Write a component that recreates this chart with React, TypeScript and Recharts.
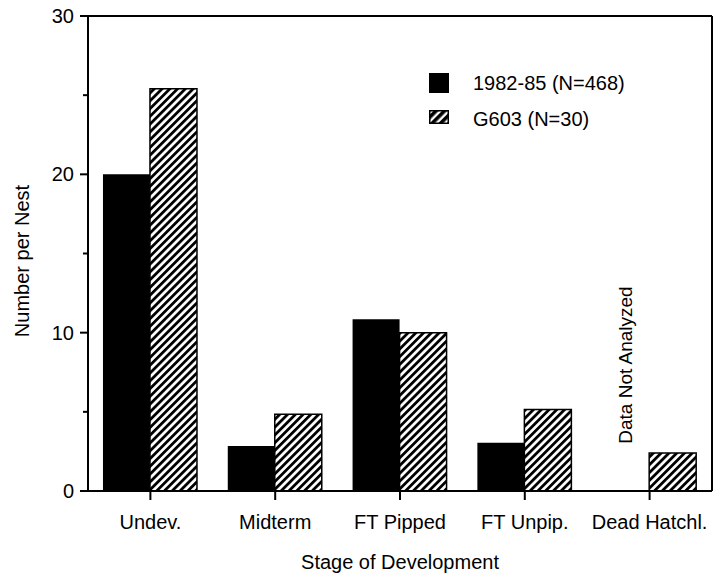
import React from 'react';
import { BarChart, Bar, XAxis, YAxis, Legend, ReferenceLine, Label } from 'recharts';

const categories = ['Undev.', 'Midterm', 'FT Pipped', 'FT Unpip.', 'Dead Hatchl.'];
const series1982 = [20.0, 2.85, 10.85, 3.05, null];
const seriesG603 = [25.4, 4.85, 10.0, 5.15, 2.4];
const yTicks = [0, 5, 10, 15, 20, 25, 30];
const yLabelTicks = [0, 10, 20, 30];
const legendLabels = ['1982-85 (N=468)', 'G603 (N=30)'];

const data = categories.map((c, i) => ({ cat: c, a: series1982[i], b: seriesG603[i] }));

const FONT = '"Liberation Sans", Arial, Helvetica, sans-serif';

const YTick = (props: any) => {
  const { x, y, payload } = props;
  const major = yLabelTicks.includes(payload.value);
  return (
    <g>
      <line x1={major ? x - 8 : x - 5} x2={x} y1={y} y2={y} stroke="#000" strokeWidth={2} />
      {major && (
        <text x={x - 14} y={y} dy="0.35em" textAnchor="end" fontSize={20} fontFamily={FONT} fill="#000">
          {payload.value}
        </text>
      )}
    </g>
  );
};

const XTick = (props: any) => {
  const { x, y, payload } = props;
  return (
    <g>
      <line x1={x} x2={x} y1={y} y2={y + 9} stroke="#000" strokeWidth={2} />
      <text x={x} y={y + 31} dy="0.35em" textAnchor="middle" fontSize={20} fontFamily={FONT} fill="#000">
        {payload.value}
      </text>
    </g>
  );
};

const LegendContent = () => (
  <div style={{ position: 'relative', width: 220, height: 60, fontFamily: FONT, fontSize: 20, color: '#000' }}>
    <svg width={22} height={60} style={{ position: 'absolute', left: 0, top: 0 }}>
      <rect x={0} y={0} width={20} height={20} fill="#000" />
      <rect x={0.75} y={37.75} width={18.5} height={12.5} fill="url(#hatchLegend)" stroke="#000" strokeWidth={1.5} />
    </svg>
    <div style={{ position: 'absolute', left: 44, top: 10, transform: 'translateY(-50%)', whiteSpace: 'nowrap', lineHeight: '20px' }}>
      {legendLabels[0]}
    </div>
    <div style={{ position: 'absolute', left: 44, top: 46, transform: 'translateY(-50%)', whiteSpace: 'nowrap', lineHeight: '20px' }}>
      {legendLabels[1]}
    </div>
  </div>
);

export default function App() {
  return (
    <div style={{ position: 'absolute', left: 0, top: 0, width: 720, height: 578, background: '#fff' }}>
      <BarChart
        width={720}
        height={578}
        data={data}
        margin={{ top: 15, right: 7, bottom: 0, left: 28 }}
        barCategoryGap="12%"
        barGap={0}
      >
        <defs>
          <pattern id="hatch" patternUnits="userSpaceOnUse" width={5.5} height={5.5} patternTransform="rotate(45)">
            <rect x={0} y={0} width={5.5} height={5.5} fill="#fff" />
            <line x1={1.4} y1={0} x2={1.4} y2={5.5} stroke="#000" strokeWidth={2.8} />
          </pattern>
          <pattern id="hatchLegend" patternUnits="userSpaceOnUse" width={6} height={6} patternTransform="rotate(45)">
            <rect x={0} y={0} width={6} height={6} fill="#fff" />
            <line x1={1.8} y1={0} x2={1.8} y2={6} stroke="#000" strokeWidth={3.6} />
          </pattern>
        </defs>
        <XAxis
          xAxisId="bottom"
          dataKey="cat"
          height={87}
          axisLine={{ stroke: '#000', strokeWidth: 2 }}
          tickLine={false}
          tickSize={0}
          tickMargin={0}
          tick={<XTick />}
          interval={0}
        >
          <Label
            content={(p: any) => {
              const vb = p.viewBox;
              return (
                <text x={vb.x + vb.width / 2} y={vb.y + 71} dy="0.35em" textAnchor="middle" fontSize={20} fontFamily={FONT} fill="#000">
                  Stage of Development
                </text>
              );
            }}
          />
        </XAxis>
        <XAxis xAxisId="top" orientation="top" dataKey="cat" height={1} tick={false} tickLine={false} axisLine={{ stroke: '#000', strokeWidth: 2 }} />
        <YAxis
          yAxisId="left"
          width={60}
          domain={[0, 30]}
          ticks={yTicks}
          interval={0}
          axisLine={{ stroke: '#000', strokeWidth: 2 }}
          tickLine={false}
          tickSize={0}
          tickMargin={0}
          tick={<YTick />}
        >
          <Label
            content={(p: any) => {
              const vb = p.viewBox;
              const cx = 22;
              const cy = vb.y + 245;
              return (
                <text x={cx} y={cy} dy="0.35em" textAnchor="middle" fontSize={20} fontFamily={FONT} fill="#000" transform={`rotate(-90 ${cx} ${cy})`}>
                  Number per Nest
                </text>
              );
            }}
          />
        </YAxis>
        <YAxis yAxisId="right" orientation="right" width={1} domain={[0, 30]} tick={false} tickLine={false} axisLine={{ stroke: '#000', strokeWidth: 2 }} />
        <Legend
          layout="vertical"
          align="center"
          verticalAlign="middle"
          content={<LegendContent />}
          wrapperStyle={{ position: 'absolute', left: 429, top: 73, width: 220, height: 60 }}
        />
        <Bar xAxisId="bottom" yAxisId="left" dataKey="a" fill="#000" isAnimationActive={false} />
        <Bar xAxisId="bottom" yAxisId="left" dataKey="b" fill="url(#hatch)" stroke="#000" strokeWidth={1.5} isAnimationActive={false} />
        <ReferenceLine
          xAxisId="bottom"
          yAxisId="left"
          x="Dead Hatchl."
          stroke="none"
          label={(p: any) => {
            const vb = p.viewBox;
            const cx = vb.x - 24;
            const cy = 365;
            return (
              <text x={cx} y={cy} dy="0.35em" textAnchor="middle" fontSize={19} fontFamily={FONT} fill="#000" transform={`rotate(-90 ${cx} ${cy})`}>
                Data Not Analyzed
              </text>
            );
          }}
        />
      </BarChart>
    </div>
  );
}
